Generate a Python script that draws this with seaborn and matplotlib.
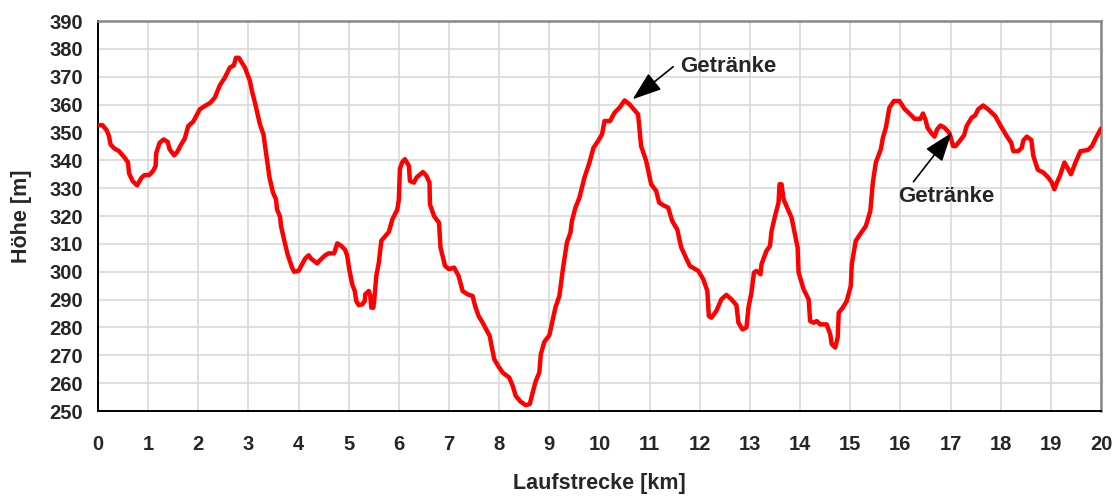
import numpy as np
import pandas as pd
import seaborn as sns
import matplotlib.pyplot as plt

km = [0.0, 0.09, 0.17, 0.22, 0.25, 0.33, 0.42, 0.53, 0.6, 0.62, 0.69, 0.78, 0.87, 0.93,
      1.02, 1.1, 1.15, 1.16, 1.23, 1.31, 1.39, 1.43, 1.52, 1.58, 1.65, 1.73, 1.8, 1.9,
      2.03, 2.13, 2.23, 2.33, 2.43, 2.53, 2.63, 2.71, 2.75, 2.81, 2.87, 2.93, 3.03, 3.07,
      3.13, 3.23, 3.3, 3.37, 3.42, 3.49, 3.55, 3.57, 3.63, 3.65, 3.71, 3.78, 3.87, 3.91,
      4.0, 4.07, 4.13, 4.2, 4.25, 4.37, 4.43, 4.53, 4.6, 4.71, 4.77, 4.85, 4.93, 4.97,
      5.01, 5.07, 5.12, 5.15, 5.2, 5.27, 5.32, 5.33, 5.4, 5.43, 5.45, 5.49, 5.51, 5.55,
      5.6, 5.65, 5.73, 5.8, 5.87, 5.97, 6.0, 6.02, 6.07, 6.12, 6.2, 6.22, 6.3, 6.35,
      6.48, 6.55, 6.61, 6.62, 6.7, 6.8, 6.83, 6.92, 7.0, 7.1, 7.19, 7.27, 7.37, 7.47,
      7.52, 7.59, 7.67, 7.81, 7.9, 8.0, 8.07, 8.2, 8.27, 8.33, 8.43, 8.53, 8.61, 8.65,
      8.73, 8.8, 8.83, 8.9, 9.0, 9.12, 9.2, 9.27, 9.35, 9.42, 9.45, 9.52, 9.6, 9.7,
      9.8, 9.88, 9.97, 10.05, 10.1, 10.21, 10.3, 10.4, 10.5, 10.6, 10.77, 10.83, 10.93,
      11.03, 11.13, 11.19, 11.27, 11.37, 11.45, 11.55, 11.63, 11.8, 11.97, 12.07, 12.15,
      12.18, 12.23, 12.33, 12.43, 12.53, 12.63, 12.73, 12.77, 12.85, 12.93, 12.97, 13.03,
      13.08, 13.13, 13.21, 13.23, 13.33, 13.4, 13.43, 13.5, 13.57, 13.59, 13.63, 13.67,
      13.77, 13.83, 13.95, 13.97, 14.07, 14.17, 14.2, 14.27, 14.33, 14.4, 14.53, 14.6,
      14.63, 14.7, 14.75, 14.77, 14.85, 14.93, 15.01, 15.03, 15.11, 15.21, 15.31, 15.4,
      15.45, 15.51, 15.61, 15.65, 15.71, 15.78, 15.87, 15.98, 16.08, 16.22, 16.28, 16.4,
      16.45, 16.5, 16.54, 16.62, 16.68, 16.73, 16.8, 16.88, 16.98, 17.05, 17.1, 17.18,
      17.27, 17.32, 17.42, 17.49, 17.55, 17.65, 17.75, 17.89, 18.02, 18.12, 18.21, 18.25,
      18.35, 18.42, 18.45, 18.52, 18.61, 18.65, 18.74, 18.85, 18.95, 19.02, 19.07, 19.12,
      19.18, 19.27, 19.34, 19.4, 19.49, 19.59, 19.74, 19.82, 19.9, 20.0]
hoehe = [352.6, 352.6, 350.9, 348.7, 345.7, 344.2, 343.3, 341.0, 339.2, 335.3, 332.6, 331.0,
         333.8, 334.7, 334.7, 336.2, 338.0, 342.5, 346.3, 347.5, 346.6, 343.9, 341.8, 343.0,
         345.4, 347.8, 352.3, 353.9, 358.3, 359.5, 360.5, 362.5, 366.9, 369.7, 373.3, 374.1,
         376.8, 376.8, 375.0, 373.3, 368.5, 364.9, 360.7, 352.9, 349.3, 340.4, 333.8, 328.4,
         326.0, 322.4, 319.8, 316.4, 311.6, 306.3, 301.5, 300.0, 300.3, 302.7, 304.7, 305.9,
         304.7, 303.0, 304.2, 305.9, 306.6, 306.6, 310.2, 309.3, 307.8, 305.7, 300.9, 295.5,
         293.1, 289.5, 288.0, 288.3, 289.5, 291.9, 293.1, 291.3, 287.1, 287.1, 290.1, 298.5,
         303.3, 311.1, 312.8, 314.3, 318.8, 322.4, 326.0, 337.0, 339.4, 340.4, 338.0, 332.6,
         332.0, 333.8, 335.8, 334.4, 332.0, 324.2, 320.0, 317.6, 308.7, 302.1, 300.9, 301.5,
         298.5, 293.1, 291.9, 291.3, 287.7, 284.1, 281.7, 277.0, 268.6, 265.6, 263.8, 262.0,
         259.0, 255.4, 253.3, 252.1, 252.5, 255.4, 260.8, 263.8, 270.4, 274.8, 277.2, 287.1,
         291.3, 300.9, 310.5, 314.0, 318.2, 323.0, 326.6, 333.8, 339.2, 344.5, 346.9, 349.3,
         354.1, 354.1, 357.1, 358.9, 361.5, 360.1, 356.5, 345.1, 339.8, 331.4, 329.0, 324.8,
         323.9, 323.0, 318.2, 315.2, 308.7, 302.1, 300.3, 297.3, 293.1, 284.1, 283.5, 285.9,
         290.1, 291.7, 290.1, 288.0, 281.7, 279.3, 280.0, 287.1, 292.5, 299.7, 300.3, 299.1,
         302.7, 307.5, 309.3, 314.6, 320.0, 324.8, 331.4, 331.4, 326.0, 321.8, 319.4, 308.7,
         299.7, 293.7, 290.1, 282.3, 281.7, 282.3, 281.1, 281.1, 277.6, 274.0, 272.8, 276.4,
         285.3, 287.1, 289.5, 294.9, 302.7, 311.1, 313.8, 316.4, 321.8, 332.0, 339.2, 344.0,
         348.1, 351.7, 358.9, 361.3, 361.3, 358.5, 356.1, 354.9, 354.9, 356.8, 354.6, 351.7,
         349.7, 348.5, 351.1, 352.5, 351.7, 349.7, 345.1, 345.1, 346.9, 349.0, 352.3, 355.3,
         356.1, 358.3, 359.7, 358.3, 355.9, 351.7, 348.7, 346.3, 343.3, 343.3, 344.5, 347.1,
         348.5, 347.3, 341.6, 336.6, 335.6, 333.8, 332.0, 329.6, 332.0, 334.4, 339.2, 337.0,
         335.0, 339.2, 343.3, 343.7, 345.1, 348.1, 351.4]

x_ticks = list(range(0, 21))
y_ticks = list(range(250, 391, 10))

# Hinweise: Text, Textposition, Pfeilanfang, Pfeilspitze
notes = ["Getränke", "Getränke"]
note_text_xy = [(11.6, 373.6), (15.96, 326.9)]
arrow_from = [(11.47, 373.6), (16.26, 332.3)]
arrow_to = [(10.66, 361.9), (17.02, 349.9)]

df = pd.DataFrame({"km": km, "hoehe": hoehe})

sns.set_theme(style="white")
plt.rcParams['font.family'] = ['Liberation Sans', 'DejaVu Sans']
plt.rcParams['font.weight'] = 'bold'

fig = plt.figure(figsize=(11.17, 4.97), dpi=100)
ax = fig.add_axes([0.0877, 0.173, 0.898, 0.7847])

sns.lineplot(data=df, x="km", y="hoehe", sort=False, color="#ff0000", lw=3.2, ax=ax, zorder=3)

ax.set_xlim(0, 20)
ax.set_ylim(250, 390)
ax.set_xticks(x_ticks)
ax.set_yticks(y_ticks)
ax.grid(True, color="#d9d9d9", lw=1.2, zorder=0)
ax.set_axisbelow(True)

for s in ["top", "right"]:
    ax.spines[s].set_color("#888888")
    ax.spines[s].set_linewidth(1.8)
for s in ["left", "bottom"]:
    ax.spines[s].set_color("black")
    ax.spines[s].set_linewidth(1.4)

ax.tick_params(axis="both", direction="out", length=6, width=1.2, color="black",
               labelsize=14.5, pad=5)
ax.tick_params(axis="x", pad=11)
for lab in ax.get_xticklabels() + ax.get_yticklabels():
    lab.set_fontweight("bold")

ax.set_xlabel("Laufstrecke [km]", fontsize=15.5, fontweight="bold", labelpad=14)
ax.set_ylabel("Höhe [m]", fontsize=15.5, fontweight="bold", labelpad=12)

for t, txy, a0, a1 in zip(notes, note_text_xy, arrow_from, arrow_to):
    ax.text(txy[0], txy[1], t, fontsize=16, fontweight="bold",
            ha="left", va="center", zorder=4)
    ax.annotate("", xy=a1, xytext=a0, zorder=4,
                arrowprops=dict(arrowstyle="-|>,head_length=0.9,head_width=0.32",
                                color="black", lw=1.2, mutation_scale=20,
                                shrinkA=0, shrinkB=0))

fig.savefig("out.png", dpi=100, facecolor="white")
